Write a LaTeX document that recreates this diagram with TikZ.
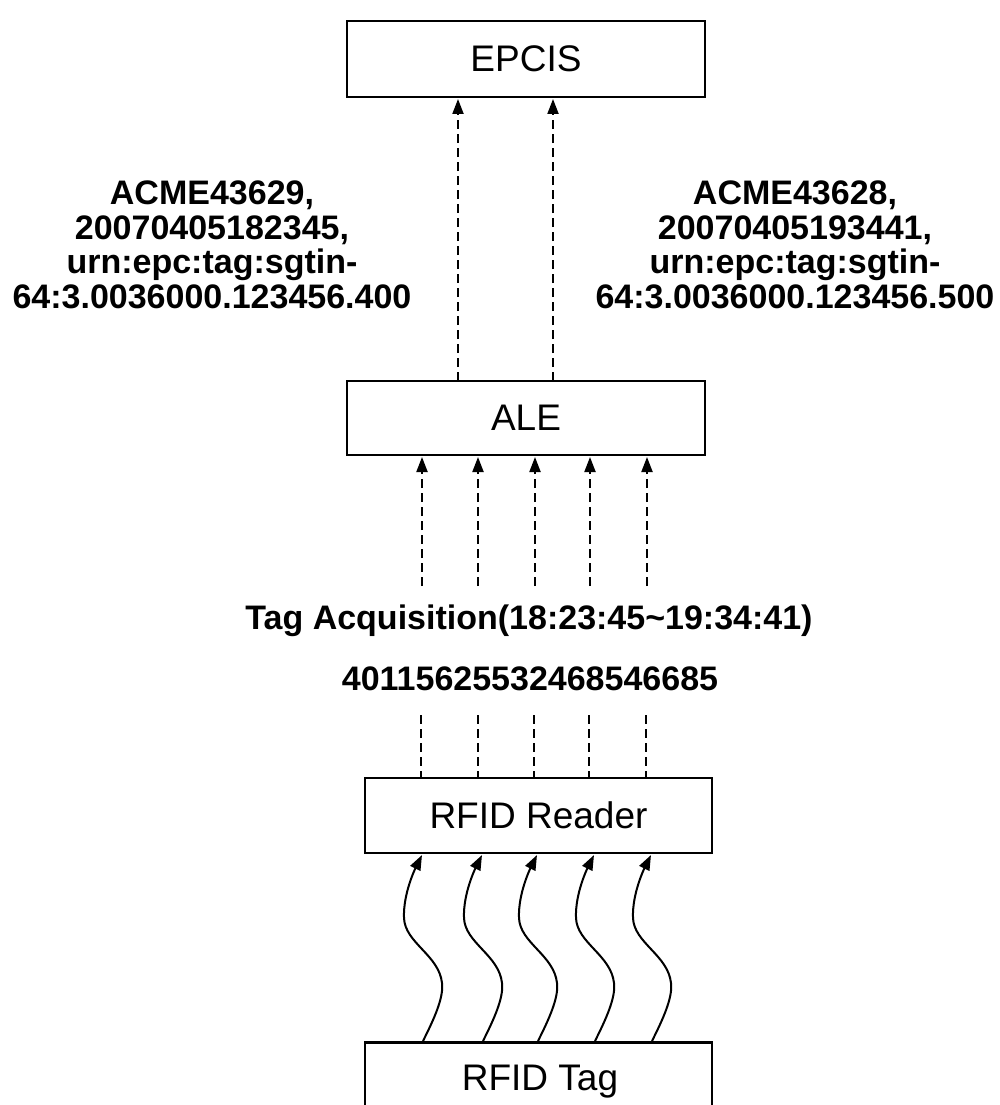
\documentclass[tikz,border=0pt]{standalone}
\usepackage{fontspec}
\setmainfont{Liberation Sans}
\usetikzlibrary{arrows.meta}
\begin{document}
\begin{tikzpicture}[x=1pt,y=-1pt,
  box/.style={draw,line width=2.6pt,inner sep=0pt,font=\fontsize{37}{40}\selectfont},
  lbl/.style={font=\bfseries\fontsize{34}{34.5}\selectfont,align=center,inner sep=0pt},
  dasharrow/.style={line width=2pt,dash pattern=on 9pt off 5pt,-{Triangle[length=15pt,width=11pt]}},
  dashline/.style={line width=2pt,dash pattern=on 9pt off 5pt},
  wavy/.style={line width=2pt,-{Triangle[length=15pt,width=11pt]}}]
\useasboundingbox (0,0) rectangle (999,1105);
\clip (0,0) rectangle (999,1105);
% boxes
\node[box,minimum width=358pt,minimum height=76pt] (epcis) at (526,59) {EPCIS};
\node[box,minimum width=358pt,minimum height=74pt] (ale) at (526,418) {ALE};
\node[box,minimum width=347pt,minimum height=75pt] (reader) at (538.5,815.5) {RFID Reader};
\node[box,minimum width=347pt,minimum height=80pt,anchor=north] (tag) at (538.5,1041) {};
\node[font=\fontsize{37}{40}\selectfont,inner sep=0pt] (tagtxt) at (540,1082) {RFID Tag};
% labels
\node[lbl] (lleft) at (212,245) {ACME43629,\\20070405182345,\\urn:epc:tag:sgtin-\\64:3.0036000.123456.400};
\node[lbl] (lright) at (795,245) {ACME43628,\\20070405193441,\\urn:epc:tag:sgtin-\\64:3.0036000.123456.500};
\node[lbl] (acq) at (529,621) {Tag Acquisition(18:23:45\textasciitilde19:34:41)};
\node[lbl] (ids) at (530,679) {40115625532468546685};
% ALE -> EPCIS
\foreach \x in {458,553}{
  \coordinate (a\x) at (\x,381);
  \coordinate (e\x) at (\x,99);
  \draw[dasharrow] (a\x) -- (e\x);
}
% acquisition -> ALE
\foreach \x in {422,478,535,590,647}{
  \coordinate (s\x) at (\x,586);
  \coordinate (b\x) at (\x,457);
  \draw[dasharrow] (s\x) -- (b\x);
}
% ids -> reader
\foreach \x in {421,478,534,589,646}{
  \coordinate (u\x) at (\x,715);
  \coordinate (v\x) at (\x,777);
  \draw[dashline] (u\x) -- (v\x);
}
% tag -> reader wavy
\foreach \x in {423,483,538,595,652}{
  \coordinate (t\x) at (\x,1041);
  \coordinate (r\x) at (\x-1,855);
  \draw[wavy] (t\x) .. controls +(10,-20) and +(2,15) .. ++(19,-58)
     .. controls +(-3,-28) and +(1,25) .. ++(-38,-65)
     .. controls +(-1,-25) and +(-6,12) .. (r\x);
}
\end{tikzpicture}
\end{document}
